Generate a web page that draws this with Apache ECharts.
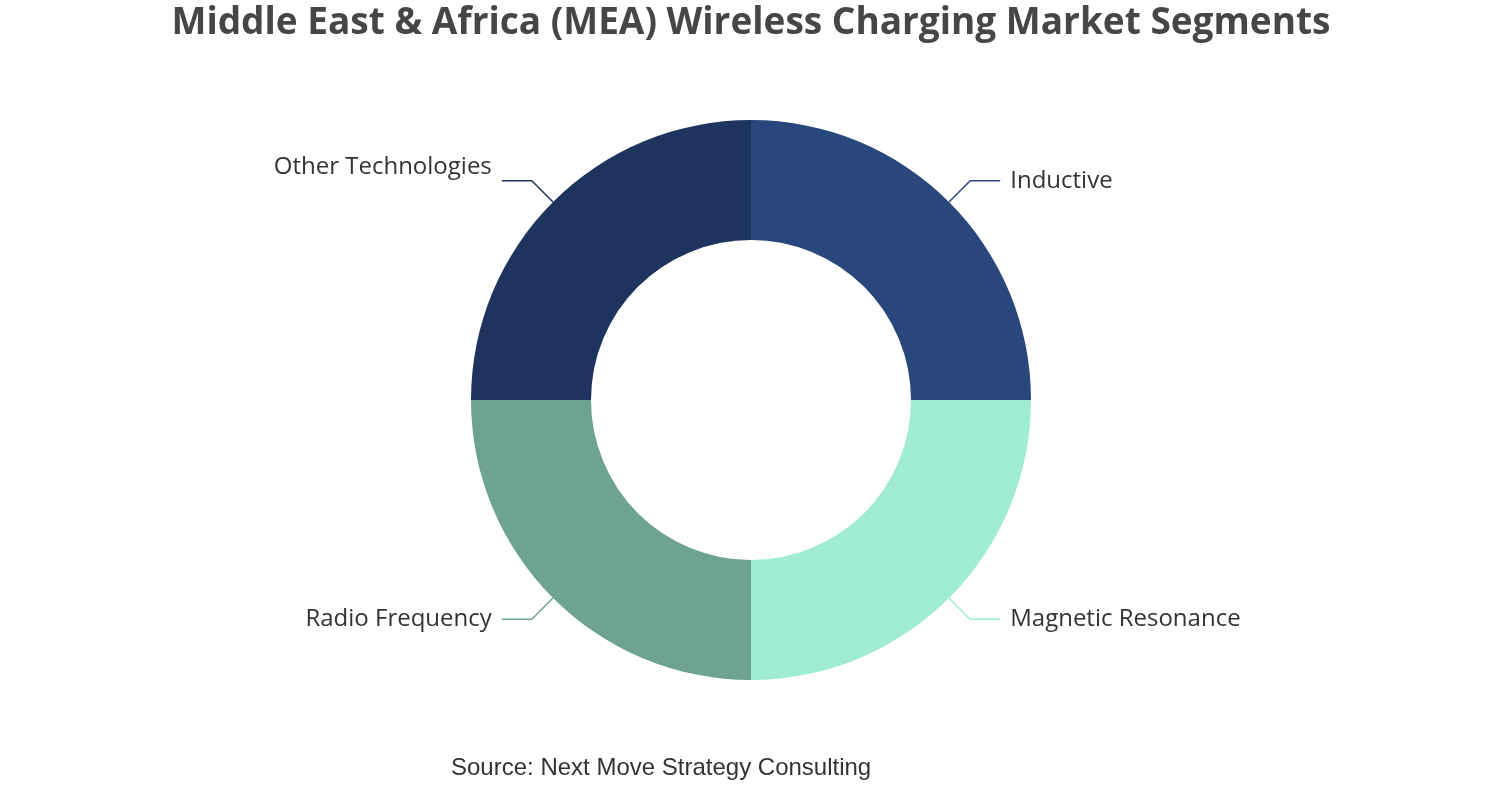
<!DOCTYPE html>
<html>
<head>
<meta charset="utf-8">
<script src="https://cdn.jsdelivr.net/npm/echarts@6/dist/echarts.min.js"></script>
<style>
  html, body { margin: 0; padding: 0; background: #fff; }
  #chart { width: 1502px; height: 800px; }
</style>
</head>
<body>
<div id="chart"></div>
<script>
// segments and their shares
var segments = ['Inductive', 'Magnetic Resonance', 'Radio Frequency', 'Other Technologies'];
var shares = [25, 25, 25, 25];
var colors = ['#2a477d', '#a0ecd2', '#6ea48f', '#1e345e'];

var chart = echarts.init(document.getElementById('chart'));

var pieData = segments.map(function (name, i) {
    var item = { name: name, value: shares[i], itemStyle: { color: colors[i] } };
    // the reference sets this label a little above its line
    if (name === 'Other Technologies') {
        item.label = { formatter: '{b}\n', lineHeight: 28 };
    }
    return item;
});

var option = {
    backgroundColor: '#ffffff',
    title: [{
        text: 'Middle East & Africa (MEA) Wireless Charging Market Segments',
        left: 'center',
        top: 0,
        textStyle: {
            fontFamily: 'Open Sans',
            fontWeight: 'bold',
            fontSize: 37,
            color: '#464646'
        }
    }, {
        text: 'Source: Next Move Strategy Consulting',
        left: 446,
        top: 751,
        textStyle: {
            fontFamily: 'Liberation Sans',
            fontWeight: 'normal',
            fontSize: 24,
            color: '#333333'
        }
    }],
    series: [{
        type: 'pie',
        center: ['50%', '50%'],
        radius: [160, 280],
        startAngle: 90,
        clockwise: true,
        avoidLabelOverlap: false,
        label: {
            show: true,
            fontFamily: 'Open Sans',
            fontSize: 24,
            color: '#333333',
            distanceToLabelLine: 10
        },
        labelLine: {
            show: true,
            length: 30,
            length2: 30,
            lineStyle: { width: 1.5 }
        },
        data: pieData
    }]
};

chart.setOption(option);
</script>
</body>
</html>
